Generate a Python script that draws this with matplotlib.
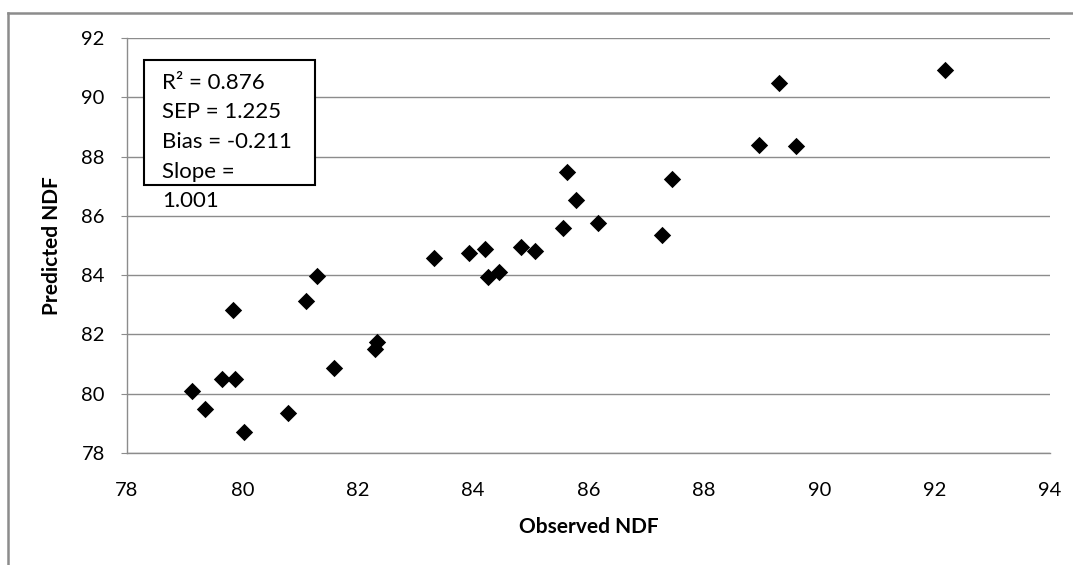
import numpy as np
import matplotlib.pyplot as plt
from matplotlib.patches import Rectangle
from matplotlib.lines import Line2D

plt.rcParams['font.family'] = ['Lato', 'DejaVu Sans']

# observed vs predicted NDF
observed = [79.13, 79.36, 79.65, 79.83, 79.88, 80.02, 80.79, 81.10, 81.30, 81.59,
            82.30, 82.33, 83.33, 83.92, 84.21, 84.25, 84.45, 84.83, 85.07, 85.55,
            85.62, 85.78, 86.16, 87.27, 87.44, 88.95, 89.30, 89.59, 92.18]
predicted = [80.10, 79.50, 80.50, 82.82, 80.50, 78.72, 79.34, 83.12, 83.97, 80.88,
             81.50, 81.75, 84.57, 84.76, 84.88, 83.93, 84.11, 84.95, 84.81, 85.60,
             87.48, 86.53, 85.75, 85.36, 87.23, 88.40, 90.48, 88.36, 90.92]
stats_lines = ["R\u00b2 = 0.876", "SEP = 1.225", "Bias = -0.211", "Slope =", "1.001"]

W, H = 1073, 565
fig = plt.figure(figsize=(W / 100, H / 100), dpi=100)
ax = fig.add_axes([127 / W, 1 - 453 / H, (1050 - 127) / W, (453 - 38) / H])

ax.scatter(observed, predicted, marker="D", s=78, color="black", zorder=3, linewidths=0)

ax.set_xlim(78, 94)
ax.set_ylim(78, 92)
ax.set_xticks(np.arange(78, 95, 2))
ax.set_yticks(np.arange(78, 93, 2))
ax.grid(axis="y", color="#8c8c8c", linewidth=1.0)
ax.set_axisbelow(True)
for side in ["top", "right"]:
    ax.spines[side].set_visible(False)
for side in ["left", "bottom"]:
    ax.spines[side].set_color("#8c8c8c")
    ax.spines[side].set_linewidth(1.0)
ax.tick_params(axis="y", length=4, color="#8c8c8c", labelsize=14.5, pad=12)
ax.tick_params(axis="x", length=0, labelsize=14.5, pad=21)

ax.set_xlabel("Observed NDF", fontsize=15, fontweight="bold", labelpad=13)
ax.set_ylabel("Predicted NDF", fontsize=15, fontweight="bold", labelpad=14)

# stats box
fig.add_artist(Rectangle((144 / W, 1 - 185 / H), (315 - 144) / W, (185 - 60) / H,
                         transform=fig.transFigure, fill=True, facecolor="white",
                         edgecolor="black", linewidth=1.5, zorder=5))
for i, line in enumerate(stats_lines):
    fig.text(162 / W, 1 - (83 + 29.5 * i) / H, line, fontsize=16, va="center",
             ha="left", zorder=6)

# chart area frame
fig.add_artist(Line2D([8 / W, 1], [1 - 13 / H, 1 - 13 / H], transform=fig.transFigure,
                      color="#8c8c8c", linewidth=1.8))
fig.add_artist(Line2D([8 / W, 8 / W], [0, 1 - 13 / H], transform=fig.transFigure,
                      color="#8c8c8c", linewidth=1.8))

fig.savefig("out.png", dpi=100)
